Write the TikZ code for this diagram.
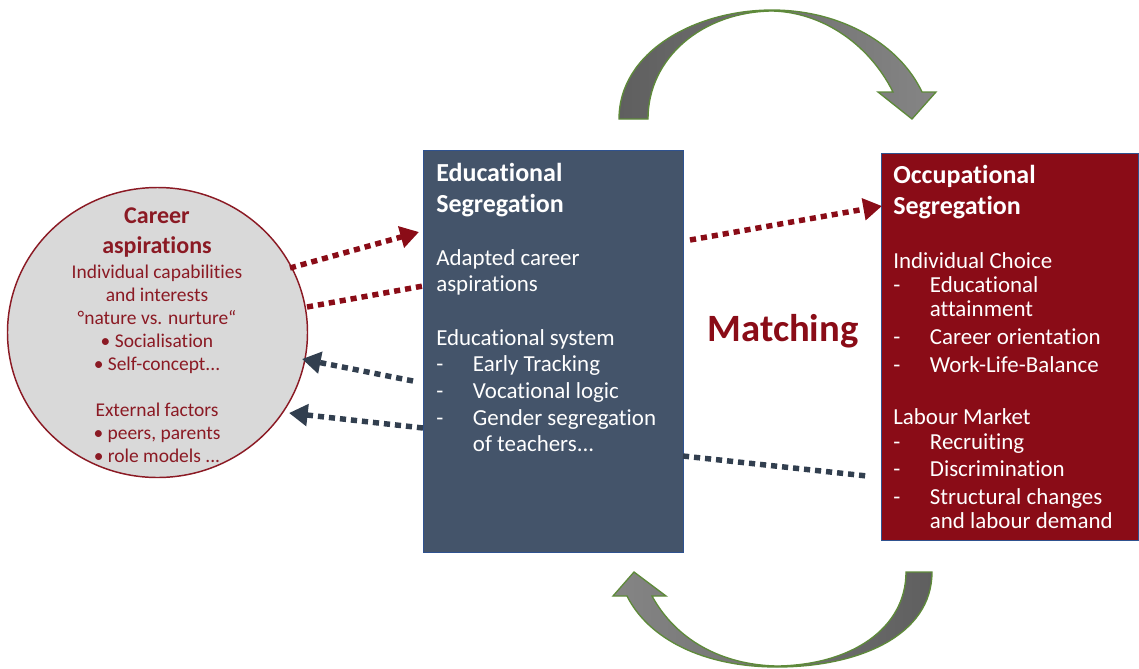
\documentclass[tikz,border=0pt]{standalone}
\usepackage{fontspec}
\setmainfont{Carlito}[Ligatures=NoCommon]
\usetikzlibrary{arrows.meta,shapes.geometric}
\definecolor{dred}{HTML}{8A0C17}
\definecolor{tred}{HTML}{8B1A24}
\definecolor{bfill}{HTML}{44546A}
\definecolor{bord}{HTML}{2F528F}
\definecolor{darr}{HTML}{323F4F}
\definecolor{cgray}{HTML}{D9D9D9}
\definecolor{agreen}{HTML}{5E8A3A}
\definecolor{gdark}{HTML}{5F5F5F}
\definecolor{glight}{HTML}{858585}
\newcommand{\dashitem}[1]{\makebox[27.5pt][l]{-}#1}
\newcommand{\contitem}[1]{\hspace*{27.5pt}#1}
\begin{document}
\begin{tikzpicture}[x=0.75pt,y=-0.75pt,
  boxstyle/.style={draw=bord, line width=0.9pt, inner sep=0pt, anchor=north west},
  whead/.style={text=white, font=\fontsize{19.5pt}{23.25pt}\selectfont\bfseries, anchor=base west, inner sep=0pt},
  wbody/.style={text=white, font=\fontsize{17.2pt}{20pt}\selectfont, anchor=base west, inner sep=0pt},
  rbody/.style={text=white, font=\fontsize{17.2pt}{18pt}\selectfont, anchor=base west, inner sep=0pt},
  reddots/.style={draw=dred, line width=4.1pt, dash pattern=on 4.6pt off 3.7pt},
  bluedots/.style={draw=darr, line width=4.1pt, dash pattern=on 4.6pt off 3.7pt},
  tipred/.style={-{Triangle[length=14pt,width=16pt]}},
  bigarrow/.style={draw=agreen, line width=1pt}
]
\useasboundingbox (0,0) rectangle (1139,668);

% curved arrows
\path[bigarrow, left color=gdark, right color=glight]
  (619,119) .. controls (619,52) and (695,10) .. (772,10)
  .. controls (842,10) and (900,45) .. (922,92)
  -- (936,92) -- (912,119) -- (878,92) -- (893,92)
  .. controls (868,42) and (820,12) .. (772,11)
  .. controls (702,12) and (648,58) .. (648,119) -- cycle;
\path[bigarrow, left color=glight, right color=gdark]
  (906,572) -- (932,572)
  .. controls (932,636) and (858,667) .. (777,667)
  .. controls (702,667) and (648,638) .. (627,596)
  -- (613,596) -- (634,572) -- (666,596) -- (652,596)
  .. controls (676,640) and (722,665) .. (777,666)
  .. controls (852,665) and (906,628) .. (906,572) -- cycle;

% nodes
\node[ellipse, draw=tred, line width=1.1pt, fill=cgray, minimum width=225pt, minimum height=217.5pt, inner sep=0pt] (circ) at (157.5,332.5) {};
\node[boxstyle, fill=bfill, minimum width=195pt, minimum height=301.5pt] (edu) at (423,150) {};
\node[boxstyle, fill=dred, minimum width=192.75pt, minimum height=290.25pt] (occ) at (881,153) {};

% circle text
\node[text=tred, font=\fontsize{18pt}{22.5pt}\selectfont\bfseries, anchor=base, inner sep=0pt] (cah) at (157,223)
 {\begin{tabular}[t]{@{}c@{}}Career\\aspirations\end{tabular}};
\node[text=tred, font=\fontsize{14.6pt}{17.25pt}\selectfont, anchor=base, inner sep=0pt] (cab) at (157,278)
 {\begin{tabular}[t]{@{}c@{}}Individual capabilities\\and interests\\°nature vs. nurture“\\• Socialisation\\• Self-concept...\\[17.25pt]External factors\\• peers, parents\\• role models ...\end{tabular}};

% educational box text
\node[whead] (eduh) at (436,181) {\begin{tabular}[t]{@{}l@{}}Educational\\Segregation\end{tabular}};
\node[wbody] (edub) at (436,265) {\begin{tabular}[t]{@{}l@{}}Adapted career\\aspirations\\[20pt]Educational system\\
\dashitem{Early Tracking}\\
\dashitem{Vocational logic}\\
\dashitem{Gender segregation}\\
\contitem{of teachers...}\end{tabular}};

% occupational box text
\node[whead] (occh) at (893,183) {\begin{tabular}[t]{@{}l@{}}Occupational\\Segregation\end{tabular}};
\node[rbody] (occb) at (893,268) {\begin{tabular}[t]{@{}l@{}}Individual Choice\\
\dashitem{Educational}\\
\contitem{attainment}\\[3pt]
\dashitem{Career orientation}\\[3pt]
\dashitem{Work-Life-Balance}\\[21pt]
Labour Market\\[1pt]
\dashitem{Recruiting}\\[2pt]
\dashitem{Discrimination}\\[3pt]
\dashitem{Structural changes}\\
\contitem{and labour demand}\end{tabular}};

% matching
\node[text=dred, font=\fontsize{29pt}{33pt}\selectfont\bfseries, anchor=base, inner sep=0pt] (match) at (783,341) {Matching};

% connector endpoints
\coordinate (r1s) at (290,268);
\coordinate (r1e) at (419,232);
\coordinate (r2s) at (307,307);
\coordinate (r2e) at (423,286);
\coordinate (b1s) at (413,381);
\coordinate (b1e) at (302,359);
\coordinate (b2s) at (423,428);
\coordinate (b2e) at (289,413);
\coordinate (r3s) at (690,240);
\coordinate (r3e) at (882,206);
\coordinate (b3s) at (683,456);
\coordinate (b3e) at (867,476);

\draw[reddots, tipred] (r1s) -- (r1e);
\draw[reddots] (r2s) -- (r2e);
\draw[bluedots, tipred] (b1s) -- (b1e);
\draw[bluedots, tipred] (b2s) -- (b2e);
\draw[reddots, tipred] (r3s) -- (r3e);
\draw[bluedots] (b3s) -- (b3e);
\end{tikzpicture}
\end{document}
